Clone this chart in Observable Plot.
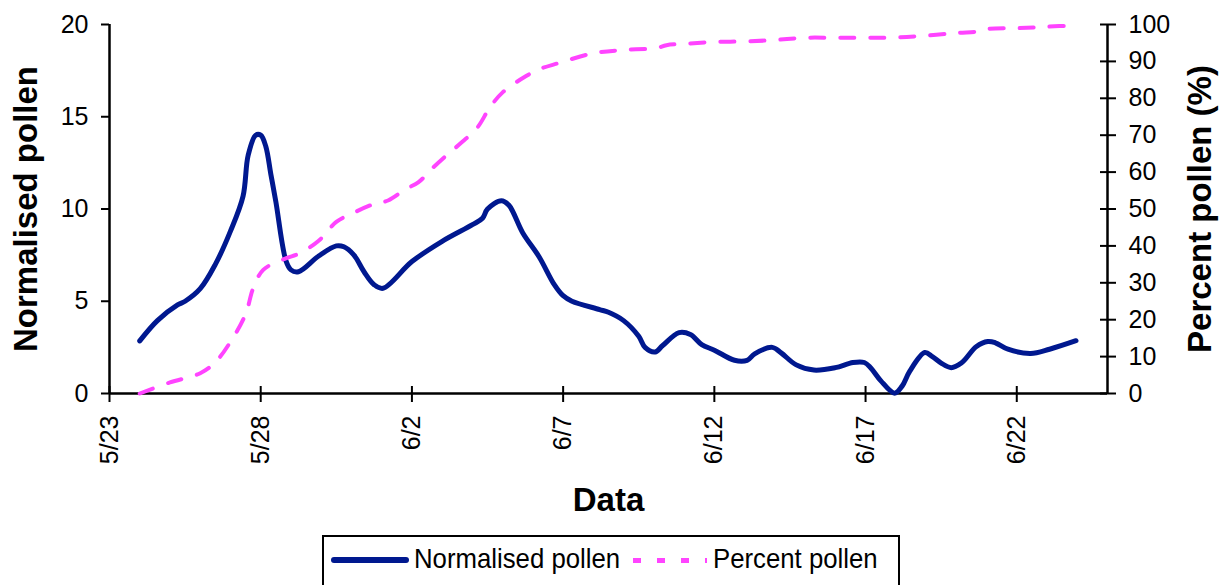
<!DOCTYPE html>
<html>
<head>
<meta charset="utf-8">
<script src="https://cdn.jsdelivr.net/npm/d3@7"></script>
<script src="https://cdn.jsdelivr.net/npm/@observablehq/plot@0.6"></script>
<style>
  html, body { margin: 0; padding: 0; background: #fff; overflow: hidden; }
  #wrap { position: relative; width: 1226px; height: 585px; font-family: "Liberation Sans", Arial, sans-serif; }
  #legend { position: absolute; left: 322px; top: 535px; width: 578px; height: 70px; border: 2px solid #000; box-sizing: border-box; background: #fff; }
  #legend .sw { position: absolute; }
  #legend .lab { position: absolute; font-size: 28px; line-height: 28px; white-space: nowrap; color: #000; transform: scaleX(0.92); transform-origin: left center; }
</style>
</head>
<body>
<div id="wrap">
  <div id="chart"></div>
  <div id="legend">
    <div class="sw" id="sw1"></div>
    <span class="lab" id="lab1"></span>
    <div class="sw" id="sw2"></div>
    <span class="lab" id="lab2"></span>
  </div>
</div>
<script>
// ---------- data ----------
const normDates = [
  "5/24 00:00","5/24 14:00","5/25 06:00","5/25 12:00","5/26 00:00","5/26 12:00","5/27 00:00","5/27 10:00",
  "5/27 14:00","5/27 20:00","5/28 00:00","5/28 04:00","5/28 08:00","5/28 12:00","5/28 20:00","5/29 00:00",
  "5/29 06:00","5/29 22:00","5/30 12:00","5/30 18:00","5/31 02:00","5/31 10:00","5/31 18:00","6/1 01:00",
  "6/2 00:00","6/3 00:00","6/4 00:00","6/4 08:00","6/4 12:00","6/4 23:00","6/5 05:00","6/5 16:00",
  "6/6 05:00","6/6 17:00","6/7 00:00","6/7 07:00","6/8 05:00","6/8 12:00","6/9 00:00","6/9 12:00",
  "6/9 17:00","6/10 01:00","6/10 07:00","6/10 20:00","6/11 05:00","6/11 14:00","6/12 00:00","6/12 16:00",
  "6/13 02:00","6/13 08:00","6/13 22:00","6/14 05:00","6/14 17:00","6/15 07:00","6/16 00:00","6/16 14:00",
  "6/16 23:00","6/17 04:00","6/17 12:00","6/17 23:00","6/18 05:00","6/18 11:00","6/18 23:00","6/19 05:00",
  "6/19 12:00","6/19 20:00","6/20 04:00","6/20 16:00","6/21 01:00","6/21 07:00","6/21 17:00","6/22 11:00",
  "6/23 02:00","6/23 23:00"
];
const normValues = [
  2.85, 3.95, 4.8, 5.0, 5.68, 7.0, 8.8, 10.7,
  12.9, 14.0, 14.0, 13.4, 11.9, 10.4, 7.2, 6.7,
  6.6, 7.45, 8.0, 7.95, 7.5, 6.6, 5.9, 5.7,
  7.15, 8.25, 9.15, 9.5, 10.0, 10.45, 10.2, 8.7,
  7.4, 5.9, 5.3, 5.0, 4.55, 4.4, 3.95, 3.1,
  2.5, 2.25, 2.6, 3.3, 3.2, 2.65, 2.35, 1.8,
  1.8, 2.15, 2.5, 2.2, 1.55, 1.27, 1.4, 1.68,
  1.68, 1.4, 0.7, 0.02, 0.4, 1.2, 2.22, 2.0,
  1.65, 1.4, 1.65, 2.55, 2.82, 2.75, 2.4, 2.17,
  2.4, 2.86
];
const pctDates = [
  "5/24 00:00","5/25 00:00","5/26 00:00","5/26 12:00","5/27 00:00","5/27 12:00","5/27 18:00","5/28 02:00",
  "5/28 19:00","5/29 07:00","5/29 22:00","5/30 12:00","5/31 00:00","5/31 19:00","6/1 05:00","6/1 19:00",
  "6/2 05:00","6/2 17:00","6/3 05:00","6/3 16:00","6/4 04:00","6/4 14:00","6/5 00:00","6/5 17:00",
  "6/6 06:00","6/6 20:00","6/8 00:00","6/9 00:00","6/10 02:00","6/10 10:00","6/11 02:00","6/12 00:00",
  "6/13 00:00","6/14 00:00","6/15 00:00","6/16 00:00","6/17 00:00","6/18 00:00","6/19 00:00","6/20 00:00",
  "6/20 20:00","6/21 02:00","6/22 00:00","6/23 00:00","6/24 00:00"
];
const pctValues = [
  0, 3.0, 5.5, 8.5, 14, 21.5, 28.5, 33.5,
  36.5, 38, 41.4, 46.5, 48.7, 51.5, 52.3, 55.4,
  57.2, 61.3, 65, 68.2, 72.1, 77.6, 81.6, 85.7,
  88, 89.5, 92.2, 93.1, 93.6, 94.4, 94.8, 95.3,
  95.4, 95.8, 96.4, 96.4, 96.4, 96.5, 97.0, 97.7,
  98.2, 98.8, 99.0, 99.4, 99.8
];
const normTicks = [0, 5, 10, 15, 20];
const pctTicks = [0, 10, 20, 30, 40, 50, 60, 70, 80, 90, 100];
const dateTicks = ["5/23", "5/28", "6/2", "6/7", "6/12", "6/17", "6/22"];
const dateDomain = ["5/23", "6/25"];
const seriesNames = ["Normalised pollen", "Percent pollen"];
const axisTitles = { left: "Normalised pollen", right: "Percent pollen (%)", bottom: "Data" };

// ---------- helpers ----------
const YEAR = 2004;
function parseDate(s) {
  const [md, hm = "00:00"] = s.split(" ");
  const [m, d] = md.split("/").map(Number);
  const [h, mi] = hm.split(":").map(Number);
  return new Date(Date.UTC(YEAR, m - 1, d, h, mi));
}
const ratio = pctTicks[pctTicks.length - 1] / normTicks[normTicks.length - 1]; // 100 / 20
const fmtDate = d => `${d.getUTCMonth() + 1}/${d.getUTCDate()}`;

const normData = normDates.map((s, i) => ({date: parseDate(s), value: normValues[i]}));
const pctData = pctDates.map((s, i) => ({date: parseDate(s), value: pctValues[i]}));
const xTickDates = dateTicks.map(parseDate);
const xDomain = dateDomain.map(parseDate);

const BLUE = "#00188f";
const PINK = "#ff44ff";

const chart = Plot.plot({
  width: 1226,
  height: 530,
  marginLeft: 109,
  marginRight: 119,
  marginTop: 24,
  marginBottom: 137,
  style: {fontFamily: "'Liberation Sans', Arial, sans-serif", fontSize: "25px", color: "#000", background: "#fff", overflow: "visible"},
  x: {type: "utc", domain: xDomain},
  y: {domain: [normTicks[0], normTicks[normTicks.length - 1]]},
  marks: [
    // left axis: ticks + labels
    Plot.axisY(normTicks, {anchor: "left", tickSize: 8, tickPadding: 13, strokeWidth: 2, label: null, fontSize: 25}),
    // right axis (percent mapped onto the same y scale): crossing ticks
    Plot.axisY(pctTicks.map(p => p / ratio), {anchor: "right", tickSize: 16, dx: -8, fill: "none", strokeWidth: 2, label: null}),
    Plot.axisY(pctTicks.map(p => p / ratio), {anchor: "right", tickSize: 8, tickPadding: 13, stroke: "none", tickFormat: v => Math.round(v * ratio), label: null, fontSize: 25}),
    // x axis crossing ticks
    Plot.axisX(xTickDates, {anchor: "bottom", tickSize: 16, dy: -7, fill: "none", strokeWidth: 2, label: null}),
    // x axis rotated labels
    Plot.axisX(xTickDates, {anchor: "bottom", tickSize: 9, tickPadding: 13, stroke: "none", tickRotate: -90, textAnchor: "end", tickFormat: fmtDate, label: null, fontSize: 25}),
    // axis lines
    Plot.ruleX([xDomain[0]], {stroke: "#000", strokeWidth: 2.5}),
    Plot.ruleX([xDomain[1]], {stroke: "#000", strokeWidth: 2.5}),
    Plot.ruleY([normTicks[0]], {stroke: "#000", strokeWidth: 2.5}),
    // series
    Plot.line(normData, {x: "date", y: "value", stroke: BLUE, strokeWidth: 5, curve: "catmull-rom", strokeLinejoin: "round", strokeLinecap: "round"}),
    Plot.line(pctData, {x: "date", y: d => d.value / ratio, stroke: PINK, strokeWidth: 4, strokeDasharray: "14,16", curve: "catmull-rom"}),
    // axis titles
    Plot.text([axisTitles.left], {frameAnchor: "left", rotate: -90, dx: -73, lineAnchor: "bottom", textAnchor: "middle", fontSize: 33, fontWeight: "bold", fill: "#000"}),
    Plot.text([axisTitles.right], {frameAnchor: "right", rotate: -90, dx: 103, lineAnchor: "bottom", textAnchor: "middle", fontSize: 33, fontWeight: "bold", fill: "#000"}),
    Plot.text([axisTitles.bottom], {frameAnchor: "bottom", dy: 117, lineAnchor: "bottom", textAnchor: "middle", fontSize: 33, fontWeight: "bold", fill: "#000"})
  ]
});
document.getElementById("chart").appendChild(chart);

// ---------- legend (HTML, below the SVG) ----------
const sw1 = document.getElementById("sw1");
Object.assign(sw1.style, {left: "7px", top: "20px", width: "78px", height: "6px", borderRadius: "3px", background: BLUE});
const lab1 = document.getElementById("lab1");
lab1.textContent = seriesNames[0];
Object.assign(lab1.style, {left: "90px", top: "8px"});
const sw2 = document.getElementById("sw2");
Object.assign(sw2.style, {left: "309px", top: "20.5px", width: "74px", height: "5px",
  background: `repeating-linear-gradient(to right, ${PINK} 0px, ${PINK} 8px, transparent 8px, transparent 24px)`});
const lab2 = document.getElementById("lab2");
lab2.textContent = seriesNames[1];
Object.assign(lab2.style, {left: "389px", top: "8px"});
</script>
</body>
</html>
